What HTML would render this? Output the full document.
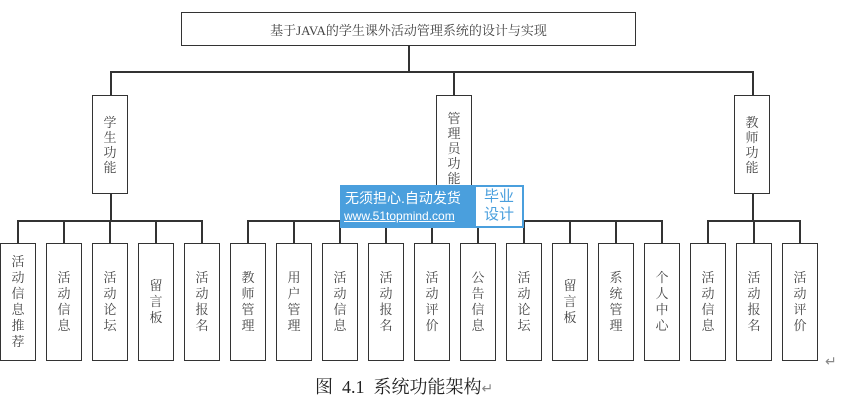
<!DOCTYPE html>
<html><head><meta charset="utf-8"><style>
body{margin:0;background:#fff;width:862px;height:415px;overflow:hidden;position:relative;font-family:"Liberation Serif","Noto Serif CJK SC",serif}
.b{position:absolute;border:1.5px solid #333;box-sizing:border-box;background:#fff;color:#444;font-size:13px}
.v{display:flex;flex-direction:column;align-items:center;justify-content:center;line-height:15px}
.l{position:absolute;background:#333}
</style></head><body>
<div class="b" style="left:181px;top:12px;width:455px;height:34px;display:flex;align-items:center;justify-content:center;font-size:13px">基于JAVA的学生课外活动管理系统的设计与实现</div>
<div class="l" style="left:408px;top:45px;width:1.5px;height:28px"></div>
<div class="l" style="left:110px;top:71px;width:644px;height:1.5px"></div>
<div class="l" style="left:110px;top:71px;width:1.5px;height:24px"></div>
<div class="l" style="left:453px;top:71px;width:1.5px;height:24px"></div>
<div class="l" style="left:752px;top:71px;width:1.5px;height:24px"></div>
<div class="b v" style="left:92px;top:95px;width:36px;height:99px"><span>学</span><span>生</span><span>功</span><span>能</span></div>
<div class="b v" style="left:436px;top:95px;width:36px;height:99px;justify-content:flex-start;padding-top:15px"><span>管</span><span>理</span><span>员</span><span>功</span><span>能</span></div>
<div class="b v" style="left:734px;top:95px;width:36px;height:99px"><span>教</span><span>师</span><span>功</span><span>能</span></div>
<div class="l" style="left:110px;top:193px;width:1.5px;height:28px"></div>
<div class="l" style="left:453px;top:193px;width:1.5px;height:28px"></div>
<div class="l" style="left:752px;top:193px;width:1.5px;height:28px"></div>
<div class="l" style="left:18px;top:220px;width:185px;height:1.5px"></div>
<div class="l" style="left:248px;top:220px;width:415px;height:1.5px"></div>
<div class="l" style="left:708px;top:220px;width:93px;height:1.5px"></div>
<div id="leaves"></div>
<script>
var t=["活动信息推荐","活动信息","活动论坛","留言板","活动报名","教师管理","用户管理","活动信息","活动报名","活动评价","公告信息","活动论坛","留言板","系统管理","个人中心","活动信息","活动报名","活动评价"];
var h="";
for(var i=0;i<18;i++){var x=46*i;
h+='<div class="l" style="left:'+(x+17)+'px;top:220px;width:1.5px;height:23px"></div>';
h+='<div class="b v" style="left:'+x+'px;top:243px;width:36px;height:118px;line-height:16px">'+t[i].split("").map(function(c){return "<span>"+c+"</span>"}).join("")+'</div>';}
document.getElementById("leaves").innerHTML=h;
</script>
<div style="position:absolute;left:340px;top:185px;width:134px;height:43px;background:#4a9fdd;color:#fff;font-family:'Liberation Sans','Noto Sans CJK SC',sans-serif">
<div style="position:absolute;left:5px;top:3px;font-size:14px">无须担心.自动发货</div>
<div style="position:absolute;left:4px;top:24px;font-size:12px;text-decoration:underline">www.51topmind.com</div></div>
<div style="position:absolute;left:474px;top:185px;width:50px;height:43px;background:#fff;border:2px solid #4a9fdd;box-sizing:border-box;color:#4a9fdd;font-family:'Liberation Sans','Noto Sans CJK SC',sans-serif;font-size:15px;line-height:18px;text-align:center;padding-top:1px">毕业<br>设计</div>
<div style="position:absolute;left:825px;top:354px;color:#888;font-size:14px">↵</div>
<div style="position:absolute;left:315px;top:373px;font-size:18px;color:#222;white-space:nowrap">图&nbsp; 4.1&nbsp; 系统功能架构<span style="color:#888;font-size:14px">↵</span></div>
</body></html>
